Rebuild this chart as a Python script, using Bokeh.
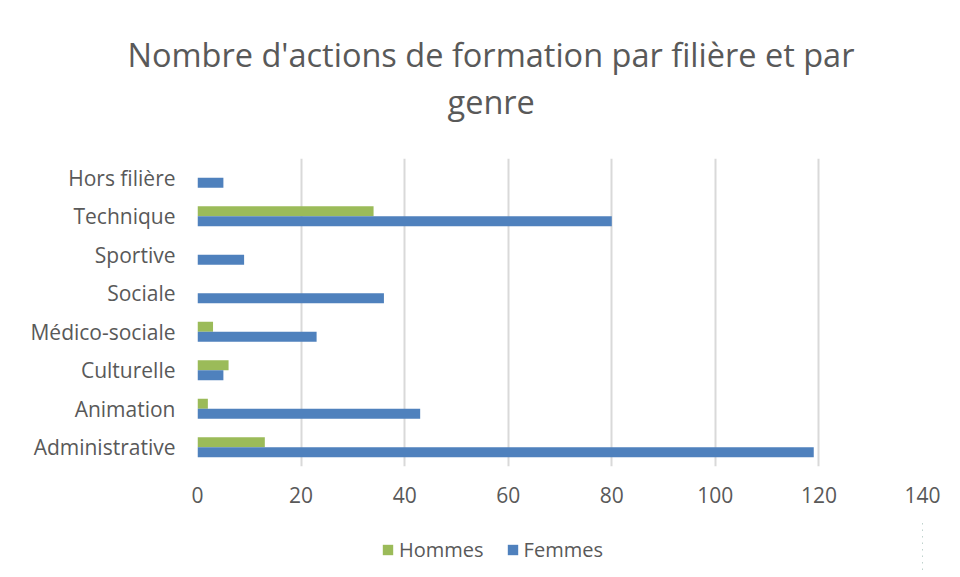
from bokeh.plotting import figure
from bokeh.layouts import column
from bokeh.models import Range1d, FactorRange, Title, Legend, LegendItem, ColumnDataSource, FixedTicker
from bokeh.transform import dodge
from bokeh.embed import file_html
from bokeh.resources import INLINE

categories = ["Administrative", "Animation", "Culturelle", "Médico-sociale",
              "Sociale", "Sportive", "Technique", "Hors filière"]
hommes = [13, 2, 6, 3, 0, 0, 34, 0]
femmes = [119, 43, 5, 23, 36, 9, 80, 5]
x_ticks = [0, 20, 40, 60, 80, 100, 120, 140]
title_line1 = "Nombre d'actions de formation par filière et par"
title_line2 = "genre"
series_names = ["Hommes", "Femmes"]

GREEN = "#9BBB59"
BLUE = "#4F81BD"
TEXT = "#595959"
FONT = "Open Sans"

W, H = 955, 520
FL, FR, FT, FB = 197, 922, 158, 466
LH = 52

src = ColumnDataSource(dict(cat=categories, hommes=hommes, femmes=femmes))

p = figure(width=W, height=H, output_backend="svg", toolbar_location=None,
           y_range=FactorRange(factors=categories, range_padding=0),
           x_range=Range1d(0, 140))
p.min_border_left = FL
p.min_border_right = W - FR
p.min_border_top = FT
p.min_border_bottom = H - FB
p.outline_line_color = None
p.background_fill_color = "white"
p.border_fill_color = "white"

r_h = p.hbar(y=dodge("cat", 0.13, range=p.y_range), left=0, right="hommes", height=0.26,
             source=src, fill_color=GREEN, line_color=None)
r_f = p.hbar(y=dodge("cat", -0.13, range=p.y_range), left=0, right="femmes", height=0.26,
             source=src, fill_color=BLUE, line_color=None)

p.xaxis.ticker = FixedTicker(ticks=x_ticks)
for ax in (p.xaxis[0], p.yaxis[0]):
    ax.axis_line_color = None
    ax.major_tick_line_color = None
    ax.minor_tick_line_color = None
    ax.major_tick_out = 0
    ax.major_tick_in = 0
    ax.major_label_text_color = TEXT
    ax.major_label_text_font = FONT
    ax.major_label_text_font_size = "21px"
p.xaxis.major_label_standoff = 20
p.yaxis.major_label_standoff = 22

p.xgrid.grid_line_color = "#d9d9d9"
p.xgrid.grid_line_width = 2
p.ygrid.grid_line_color = None

def style_title(t, off, standoff=0):
    t.align = "left"
    t.vertical_align = "middle"
    t.offset = off
    t.text_font = FONT
    t.text_font_size = "32.5px"
    t.text_font_style = "normal"
    t.text_color = TEXT
    t.standoff = standoff

p.title.text = title_line1
style_title(p.title, -70)
spacer = Title(text=" ", text_font_size="1px", standoff=31)
p.add_layout(spacer, "above")
t2 = Title(text=title_line2)
style_title(t2, 250)
p.add_layout(t2, "above")

# legend strip below the chart (its bars lie outside its visible range;
# they only provide the legend swatches)
lg = figure(width=W, height=LH, output_backend="svg", toolbar_location=None,
            x_range=Range1d(-1000, -999), y_range=FactorRange(factors=categories),
            x_axis_location=None, y_axis_location=None, min_border=0)
lg.outline_line_color = None
lg.grid.visible = False
lg.background_fill_color = "white"
lg.border_fill_color = "white"
lh_r = lg.hbar(y="cat", left=0, right="hommes", height=0.26, source=src,
               fill_color=GREEN, line_color=None)
lf_r = lg.hbar(y="cat", left=0, right="femmes", height=0.26, source=src,
               fill_color=BLUE, line_color=None)

legend = Legend(items=[LegendItem(label=series_names[0], renderers=[lh_r]),
                       LegendItem(label=series_names[1], renderers=[lf_r])],
                orientation="horizontal", location=(184, 9),
                glyph_width=13, glyph_height=13, label_standoff=5, spacing=22,
                padding=0, margin=0, border_line_color=None, background_fill_alpha=0,
                label_text_font=FONT, label_text_font_size="20px", label_text_color=TEXT)
lg.add_layout(legend, "center")

layout = column(p, lg, spacing=0)
open("out.html", "w").write(file_html(layout, INLINE))
